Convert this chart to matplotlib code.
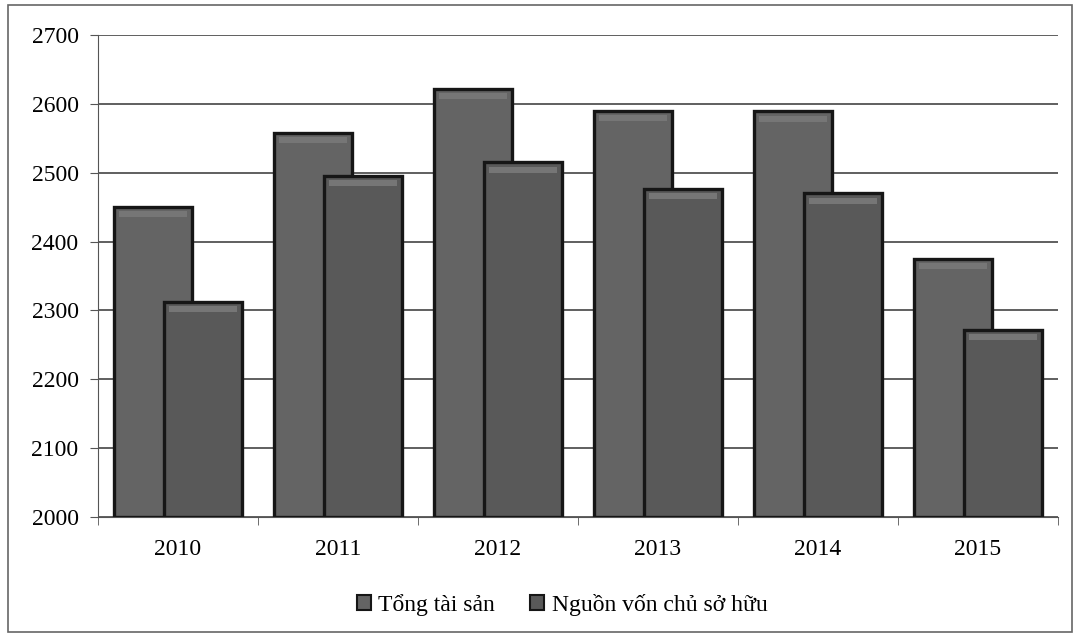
import matplotlib
matplotlib.use('Agg')
import matplotlib.pyplot as plt
import numpy as np
from matplotlib.patches import Rectangle

years = ['2010', '2011', '2012', '2013', '2014', '2015']
tong_tai_san = [2450, 2558, 2622, 2590, 2589, 2375]
nguon_von = [2312, 2495, 2515, 2477, 2470, 2272]
series_names = ['Tổng tài sản', 'Nguồn vốn chủ sở hữu']

plt.rcParams['font.family'] = ['Liberation Serif', 'DejaVu Serif']

fig = plt.figure(figsize=(10.81, 6.37), dpi=100)
ax = fig.add_axes([98/1081, 1-517/637, (1058-98)/1081, (517-35)/637])

x = np.arange(len(years))
width = 0.49
offset = 0.155
edge = '#161616'

for vals, sh, col in [(tong_tai_san, -offset, '#646464'), (nguon_von, offset, '#595959')]:
    ax.bar(x + sh, np.array(vals) - 2000, width, bottom=2000, color=col,
           edgecolor=edge, linewidth=2.4, zorder=3)
    # soft bevel near the top of each bar
    ax.bar(x + sh, np.full(len(vals), 9), width * 0.86, bottom=np.array(vals) - 15,
           color='#767676', linewidth=0, zorder=4)

ax.set_ylim(2000, 2700)
ax.set_xlim(-0.5, len(years) - 0.5)
ax.set_yticks(np.arange(2000, 2701, 100))
ax.set_xticks(x)
ax.set_xticklabels(years)
ax.set_xticks(np.arange(-0.5, len(years)), minor=True)
ax.tick_params(axis='x', which='major', length=0, pad=16, labelsize=17)
ax.tick_params(axis='x', which='minor', length=6, color='#555555')
ax.tick_params(axis='y', length=6, color='#555555', labelsize=17, pad=8)
ax.yaxis.grid(True, color='#444444', linewidth=1.2, zorder=0)
ax.set_axisbelow(True)
for s in ['top', 'right']:
    ax.spines[s].set_visible(False)
ax.spines['left'].set_color('#555555')
ax.spines['bottom'].set_color('#555555')

handles = [Rectangle((0, 0), 1, 1, facecolor='#646464', edgecolor=edge, linewidth=1.5),
           Rectangle((0, 0), 1, 1, facecolor='#595959', edgecolor=edge, linewidth=1.5)]
fig.legend(handles, series_names, loc='center', bbox_to_anchor=(0.52, 1-605/637), ncol=2,
           frameon=False, fontsize=17, handlelength=0.6, handleheight=0.6,
           handletextpad=0.3, columnspacing=1.5)

fig.patches.append(Rectangle((8/1081, 5/637), 1064/1081, 627/637, transform=fig.transFigure,
                             fill=False, edgecolor='#666666', linewidth=1.2))

fig.savefig('out.png', dpi=100)
